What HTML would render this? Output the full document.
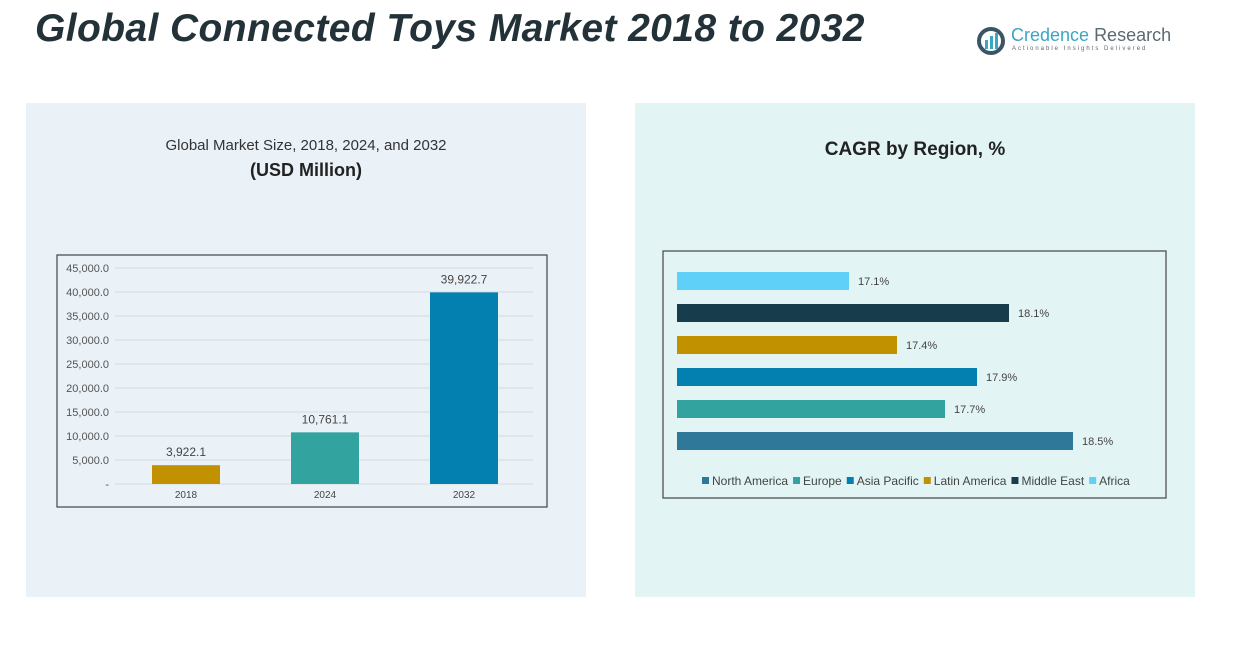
<!DOCTYPE html>
<html><head><meta charset="utf-8"><style>
body{margin:0;width:1242px;height:647px;background:#fff;position:relative;overflow:hidden;font-family:"Liberation Sans",sans-serif}
.abs{position:absolute}
</style></head><body>
<div class="abs" style="left:35px;top:7px;font-size:39px;font-weight:bold;font-style:italic;color:#233238;letter-spacing:0.4px;white-space:nowrap">Global Connected Toys Market 2018 to 2032</div>
<div class="abs" style="left:977px;top:25px;width:200px;height:32px">
<svg width="30" height="30" style="position:absolute;left:0;top:2px"><circle cx="14" cy="14" r="12" fill="none" stroke="#3c5566" stroke-width="4"/><rect x="8" y="13" width="3" height="9" fill="#3aa6c2"/><rect x="13" y="9" width="3" height="13" fill="#3aa6c2"/><rect x="18" y="6" width="3" height="16" fill="#3aa6c2"/></svg>
<div class="abs" style="left:34px;top:0;font-size:18px;color:#3aa6c2;white-space:nowrap">Credence <span style="color:#5a6a74">Research</span></div>
<div class="abs" style="left:35px;top:21px;font-size:6px;letter-spacing:2px;color:#5a6a74;white-space:nowrap">Actionable Insights Delivered</div>
</div>
<div class="abs" style="left:26px;top:103px;width:560px;height:494px;background:#eaf2f8"></div>
<div class="abs" style="left:635px;top:103px;width:560px;height:494px;background:#e3f4f4"></div>
<div class="abs" style="left:26px;width:560px;top:137px;text-align:center;font-size:15px;color:#333">Global Market Size, 2018, 2024, and 2032</div>
<div class="abs" style="left:26px;width:560px;top:160px;text-align:center;font-size:18px;font-weight:bold;color:#222">(USD Million)</div>
<div class="abs" style="left:635px;width:560px;top:139px;text-align:center;font-size:19px;font-weight:bold;color:#222">CAGR by Region, %</div>
<svg class="abs" style="left:0;top:0" width="1242" height="647" id="svg"></svg>
<script>
const years=["2018","2024","2032"];
const sizes=[3922.1,10761.1,39922.7];
const sizeLabels=["3,922.1","10,761.1","39,922.7"];
const yTicks=[0,5000,10000,15000,20000,25000,30000,35000,40000,45000];
const yTickLabels=["-","5,000.0","10,000.0","15,000.0","20,000.0","25,000.0","30,000.0","35,000.0","40,000.0","45,000.0"];
const barColors=["#c29100","#33a39f","#0480b0"];
const regions=["Africa","Middle East","Latin America","Asia Pacific","Europe","North America"];
const cagr=[17.1,18.1,17.4,17.9,17.7,18.5];
const regionColors=["#5fd0f7","#173d4c","#c29100","#0480b0","#33a39f","#2f7899"];
const legendOrder=["North America","Europe","Asia Pacific","Latin America","Middle East","Africa"];
const legendColors=["#2f7899","#33a39f","#0480b0","#c29100","#173d4c","#5fd0f7"];
const NS="http://www.w3.org/2000/svg",svg=document.getElementById('svg');
function mk(t,a,txt){const e=document.createElementNS(NS,t);for(const k in a)e.setAttribute(k,a[k]);if(txt!==undefined)e.textContent=txt;svg.appendChild(e);return e;}
let e=mk('rect',{x:57,y:255,width:490,height:252,fill:'none',stroke:'#444','stroke-width':1.2});


const y=v=>484-v*216/45000;
yTicks.forEach((t,i)=>{
 let g=mk('line',{x1:115,x2:533,y1:y(t),y2:y(t),stroke:'#d4dbe0','stroke-width':1});
 
 
 let l=mk('text',{x:109,y:y(t)+4,'text-anchor':'end','font-size':11,fill:'#555'},yTickLabels[i]);
 
 
});
const xc=i=>186+i*139;
years.forEach((yr,i)=>{
 let b=mk('rect',{x:xc(i)-34,y:y(sizes[i]),width:68,height:484-y(sizes[i]),fill:barColors[i]});
 
 
 let v=mk('text',{x:xc(i),y:y(sizes[i])-9,'text-anchor':'middle','font-size':12,fill:'#444'},sizeLabels[i]);
 
 
 let xl=mk('text',{x:xc(i),y:498,'text-anchor':'middle','font-size':10,fill:'#444'},yr);
 
 
});
e=mk('rect',{x:663,y:251,width:503,height:247,fill:'none',stroke:'#444','stroke-width':1.2});


const xw=v=>(v-16.025)*160;
regions.forEach((r,i)=>{
 const cy=281+i*32;
 let b=mk('rect',{x:677,y:cy-9,width:xw(cagr[i]),height:18,fill:regionColors[i]});
 
 
 let l=mk('text',{x:677+xw(cagr[i])+9,y:cy+4,'font-size':11,fill:'#444'},cagr[i].toFixed(1)+'%');
 
 
});
let lx=702;
legendOrder.forEach((r,i)=>{
 let s=mk('rect',{x:lx,y:477,width:7,height:7,fill:legendColors[i]});
 
 
 let t=mk('text',{x:lx+10,y:485,'font-size':12,fill:'#444'},r);
 
 
 lx+=10+t.getComputedTextLength()+5;
});
</script>
</body></html>
